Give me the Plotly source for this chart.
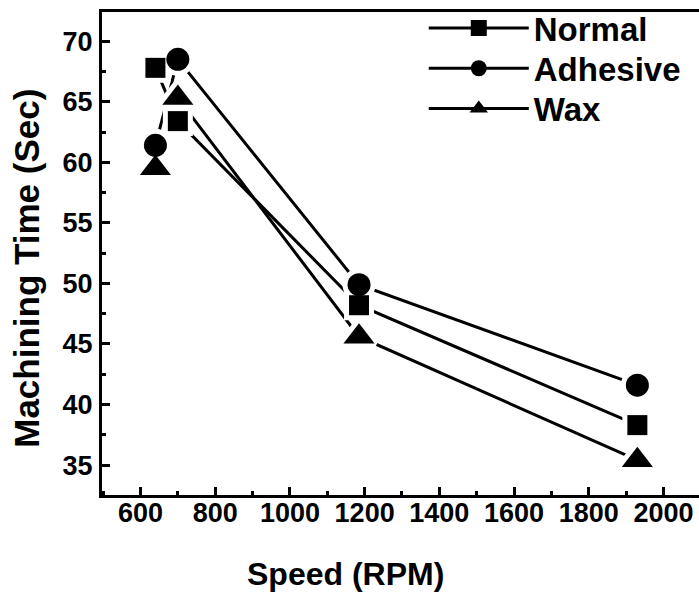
import plotly.graph_objects as go

# Data
speed = [640, 700, 1185, 1930]
normal = [67.8, 63.4, 48.2, 38.3]
adhesive = [61.4, 68.5, 49.9, 41.6]
wax = [59.5, 65.3, 45.6, 35.4]

series_names = ["Normal", "Adhesive", "Wax"]
series_values = [normal, adhesive, wax]
symbols = ["square", "circle", "triangle-up"]
sizes = [20, 23, 27]
legend_ids = ["legend", "legend2", "legend3"]

x_ticks = [600, 800, 1000, 1200, 1400, 1600, 1800, 2000]
y_ticks = [35, 40, 45, 50, 55, 60, 65, 70]

FONT = "Liberation Sans, Arial, Helvetica, sans-serif"
BLACK = "#000000"

fig = go.Figure()

# 1) lines (+ markers, for the legend glyph)
for name, vals, sym, sz, lg in zip(series_names, series_values, symbols, sizes, legend_ids):
    fig.add_trace(go.Scatter(
        x=speed, y=vals, name=name, mode="lines+markers",
        line=dict(color=BLACK, width=3),
        marker=dict(symbol=sym, size=sz, color=BLACK, line=dict(width=0)),
        showlegend=True, legend=lg,
    ))
# 2) white halos that open gaps in the lines around every marker
for vals, sym, sz in zip(series_values, symbols, sizes):
    fig.add_trace(go.Scatter(
        x=speed, y=vals, mode="markers", hoverinfo="skip",
        marker=dict(symbol=sym, size=sz, color="white", line=dict(color="white", width=10)),
        showlegend=False,
    ))
# 3) black markers on top
for vals, sym, sz in zip(series_values, symbols, sizes):
    fig.add_trace(go.Scatter(
        x=speed, y=vals, mode="markers",
        marker=dict(symbol=sym, size=sz, color=BLACK, line=dict(width=0)),
        showlegend=False,
    ))

axis_common = dict(
    showgrid=False, zeroline=False, automargin=False,
    showline=True, linecolor=BLACK, linewidth=3,
    ticks="inside", ticklen=8, tickwidth=3, tickcolor=BLACK,
    tickfont=dict(family=FONT, size=27, color=BLACK, weight="bold"),
)

fig.update_xaxes(
    range=[497, 2095], tickvals=x_ticks, ticktext=[str(v) for v in x_ticks],
    mirror=True, ticklabelstandoff=-8,
    minor=dict(ticks="inside", ticklen=4, tickwidth=3, tickcolor=BLACK, dtick=100, tick0=0, showgrid=False),
    **axis_common,
)
fig.update_yaxes(
    range=[32.53, 72.41], tickvals=y_ticks, ticktext=[str(v) for v in y_ticks],
    ticklabelstandoff=1,
    minor=dict(ticks="inside", ticklen=4, tickwidth=3, tickcolor=BLACK, dtick=2.5, tick0=0, showgrid=False),
    **axis_common,
)

legend_font = dict(family=FONT, size=33, color=BLACK, weight="bold")
legend_common = dict(
    xanchor="left", yanchor="middle", bgcolor="rgba(0,0,0,0)", borderwidth=0,
    font=legend_font, itemwidth=100,
)
legend_x = 0.539
legend_rows = [0.967, 0.8835, 0.800]

fig.update_layout(
    template="none",
    width=699, height=601, autosize=False,
    margin=dict(l=102, r=0, t=10, b=106),
    paper_bgcolor="white", plot_bgcolor="white",
    showlegend=True,
    legend=dict(x=legend_x, y=legend_rows[0], **legend_common),
    legend2=dict(x=legend_x, y=legend_rows[1], **legend_common),
    legend3=dict(x=legend_x, y=legend_rows[2], **legend_common),
    annotations=[
        dict(text="Speed (RPM)", xref="paper", yref="paper", x=0.4087, y=-0.163,
             xanchor="center", yanchor="middle", showarrow=False,
             font=dict(family=FONT, size=32, color=BLACK, weight="bold")),
        dict(text="Machining Time (Sec)", xref="paper", yref="paper", x=-0.126, y=0.47,
             xanchor="center", yanchor="middle", showarrow=False, textangle=-90,
             font=dict(family=FONT, size=35, color=BLACK, weight="bold")),
    ],
)

# remove the browser's default 8px body margin so the figure fills the window
fig.write_html(
    "out.html",
    config={"displayModeBar": False},
    post_script="document.body.style.margin='0px';",
)
